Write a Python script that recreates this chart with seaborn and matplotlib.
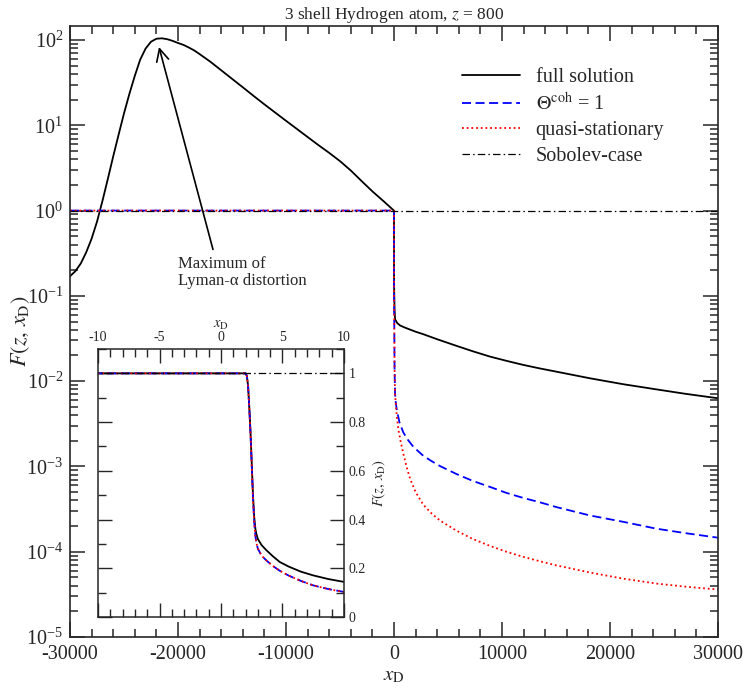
import matplotlib
matplotlib.use("Agg")
import matplotlib.pyplot as plt
import seaborn as sns
from matplotlib.ticker import MultipleLocator, LogLocator, NullFormatter, FuncFormatter

# ---------------- data ----------------
full_x = [-30000, -29500, -29000, -28500, -28000, -27500, -27000, -26500, -26000,
          -25500, -25000, -24500, -24000, -23500, -23000, -22500, -22000, -21500,
          -21000, -20500, -20000, -19500, -19000, -18500, -18000, -17000, -16000,
          -15000, -14000, -13000, -12000, -11000, -10000, -9000, -8000, -7000,
          -6000, -5000, -4000, -3000, -2000, -1000, -10, 0,
          2.0, 2.1, 2.2, 2.3, 2.4, 2.5, 2.6, 2.7, 2.8, 2.87, 3.0, 3.3, 3.69, 4.2,
          4.77, 5.5, 6.5, 7.48, 8.7, 10,
          20, 50, 100, 300, 556, 1000, 2000, 2716, 4000, 5800, 7300, 8890, 10500,
          11975, 13500, 15060, 18150, 21235, 24320, 27000, 30000]
full_F = [0.170, 0.195, 0.240, 0.324, 0.468, 0.741, 1.29, 2.34, 4.32,
          7.76, 13.8, 23.4, 38.0, 58.9, 79.4, 95.5, 103.5, 104.7,
          102.3, 97.7, 92.3, 87.7, 81.7, 75.5, 68.4, 55.6, 44.2,
          35.1, 27.9, 22.1, 17.6, 14.1, 11.3, 9.08, 7.29, 5.86,
          4.75, 3.80, 2.95, 2.22, 1.68, 1.30, 1.0, 1.0,
          1.0, 0.99, 0.95, 0.86, 0.76, 0.63, 0.5, 0.41, 0.36, 0.342, 0.32, 0.295,
          0.274, 0.25, 0.226, 0.207, 0.186, 0.171, 0.156, 0.144,
          0.11, 0.07, 0.053, 0.048, 0.045, 0.0425, 0.038, 0.0355, 0.031, 0.0259,
          0.0224, 0.0194, 0.0172, 0.0155, 0.0141, 0.0129, 0.0108, 0.0092, 0.0080,
          0.0071, 0.0063]

theta_x = [-30000, 0, 2.0, 2.1, 2.2, 2.3, 2.4, 2.5, 2.6, 2.7, 2.8, 2.9, 3.0, 3.3,
           3.69, 4.2, 4.77, 5.5, 6.5, 7.48, 8.7, 10,
           20, 50, 93, 150, 250, 500, 864, 1300, 1790, 2716, 3500, 4260, 5800,
           7300, 8890, 10400, 11975, 13500, 15060, 18150, 21235, 24320, 27000, 30000]
theta_F = [1, 1, 1, 0.99, 0.95, 0.86, 0.75, 0.62, 0.49, 0.39, 0.33, 0.30, 0.28,
           0.252, 0.232, 0.21, 0.19, 0.17, 0.148, 0.13, 0.115, 0.103,
           0.06, 0.015, 0.0074, 0.0058, 0.0047, 0.0033, 0.0025, 0.00204, 0.0017,
           0.00133, 0.00115, 0.00101, 0.000813, 0.000676, 0.000575, 0.00049,
           0.000427, 0.00038, 0.000333, 0.000266, 0.000224, 0.000186, 0.000165,
           0.000146]

quasi_x = [-30000, 0, 2.0, 2.1, 2.2, 2.3, 2.4, 2.5, 2.6, 2.7, 2.8, 2.9, 3.0, 3.3,
           3.69, 4.2, 4.77, 5.5, 6.5, 7.48, 8.7, 10,
           20, 50, 93, 250, 400, 600, 864, 1200, 1480, 2000, 2716, 3500, 4260,
           5800, 7300, 8890, 10400, 11975, 13500, 15060, 18150, 21235, 24320,
           27000, 30000]
quasi_F = [1, 1, 1, 0.99, 0.95, 0.86, 0.75, 0.62, 0.49, 0.39, 0.33, 0.30, 0.28,
           0.252, 0.232, 0.21, 0.19, 0.17, 0.148, 0.13, 0.115, 0.102,
           0.06, 0.014, 0.00708, 0.00398, 0.00275, 0.0020, 0.00141, 0.000955,
           0.000724, 0.000501, 0.000355, 0.000279, 0.000232, 0.000176, 0.000141,
           0.000117, 0.000100, 8.7e-5, 7.73e-5, 6.9e-5, 5.7e-5, 4.83e-5, 4.23e-5,
           3.89e-5, 3.6e-5]

sob_x = [-30000, 30000]
sob_F = [1, 1]

labels = ["full solution", r"$\Theta^{\rm coh}$ = 1", "quasi-stationary", "Sobolev-case"]
title = r"3 shell Hydrogen atom, $z$ = 800"
annot = "Maximum of\nLyman-\u03b1 distortion"
peak_xy = (-21760, 82.8)
arrow_tail = (-16760, 0.35)

# ---------------- style ----------------
sns.set_style("ticks")
plt.rcParams["font.family"] = ["Liberation Serif", "DejaVu Serif"]
plt.rcParams["mathtext.fontset"] = "stix"
plt.rcParams["axes.unicode_minus"] = False
plt.rcParams["axes.linewidth"] = 1.2

fig = plt.figure(figsize=(7.47, 6.88), dpi=100)
ax = fig.add_axes([70 / 747, 1 - 637 / 688, 648 / 747, 611 / 688])

series = [
    (full_x, full_F, "black", "-", labels[0], 1.3),
    (theta_x, theta_F, "#0000ff", (0, (5, 2.5)), labels[1], 1.3),
    (quasi_x, quasi_F, "#ff0000", (0, (1, 1.6)), labels[2], 1.3),
    (sob_x, sob_F, "black", (0, (6, 2.5, 1.2, 2.5)), labels[3], 0.9),
]

def draw(a, with_label):
    for xs, ys, c, ls, lab, lw in series:
        sns.lineplot(x=xs, y=ys, ax=a, color=c, linestyle=ls, lw=lw,
                     label=lab if with_label else None, sort=False,
                     estimator=None, legend=False)

draw(ax, True)
ax.set_yscale("log")
ax.set_xlim(-30000, 30000)
ax.set_ylim(1e-5, 146)
ax.xaxis.set_major_locator(MultipleLocator(10000))
ax.xaxis.set_minor_locator(MultipleLocator(2000))
ax.yaxis.set_major_locator(LogLocator(base=10, numticks=20))
ax.yaxis.set_minor_locator(LogLocator(base=10, subs=range(2, 10), numticks=20))
ax.yaxis.set_minor_formatter(NullFormatter())
ax.tick_params(which="both", direction="in", top=True, right=True, width=1.1,
               labelsize=14.5)
ax.tick_params(which="major", length=11)
ax.tick_params(which="minor", length=6)
ax.tick_params(axis="x", which="major", pad=5.5)
ax.tick_params(axis="y", which="major", pad=5)
ax.set_xlabel(r"$x_{\rm D}$", fontsize=15)
ax.set_ylabel(r"$F(z,\, x_{\rm D})$", fontsize=16)
ax.xaxis.set_label_coords(0.5, -0.0475)
ax.yaxis.set_label_coords(-0.059, 0.5)
ax.set_title(title, fontsize=12.5, pad=5)

ax.legend(frameon=False, loc="upper left", bbox_to_anchor=(462 / 747, 1 - 68 / 688),
          bbox_transform=fig.transFigure, handlelength=2.9, handletextpad=0.75,
          labelspacing=0.3, borderpad=0, borderaxespad=0, fontsize=14.5)

ax.annotate("", xy=peak_xy, xytext=arrow_tail,
            arrowprops=dict(arrowstyle="->", color="black", lw=1.2,
                            mutation_scale=22, shrinkA=0, shrinkB=0))
fig.text(178 / 747, 1 - 256 / 688, annot, ha="left", va="top", fontsize=12,
         linespacing=1.05)

# ---------------- inset ----------------
axin = fig.add_axes([98 / 747, 1 - 617 / 688, 246 / 747, 268 / 688])
axin.set_facecolor("white")
draw(axin, False)
axin.set_xlim(-10, 10)
axin.set_ylim(0, 1.1)
axin.xaxis.set_major_locator(MultipleLocator(5))
axin.xaxis.set_minor_locator(MultipleLocator(1))
axin.yaxis.set_major_locator(MultipleLocator(0.2))
axin.yaxis.set_minor_locator(MultipleLocator(0.1))
axin.yaxis.set_major_formatter(FuncFormatter(lambda v, p: f"{v:g}"))
axin.tick_params(which="both", direction="in", top=True, bottom=True, left=True,
                 right=True, labeltop=True, labelbottom=False, labelleft=False,
                 labelright=True, labelsize=10, width=1.0)
axin.tick_params(which="major", length=10)
axin.tick_params(which="minor", length=6)
axin.xaxis.set_label_position("top")
axin.yaxis.set_label_position("right")
axin.set_xlabel(r"$x_{\rm D}$", fontsize=10.5, labelpad=2)
axin.set_ylabel(r"$F(z,\, x_{\rm D})$", fontsize=10.5, labelpad=3)
for s in axin.spines.values():
    s.set_linewidth(1.1)

fig.savefig("out.png", dpi=100)
